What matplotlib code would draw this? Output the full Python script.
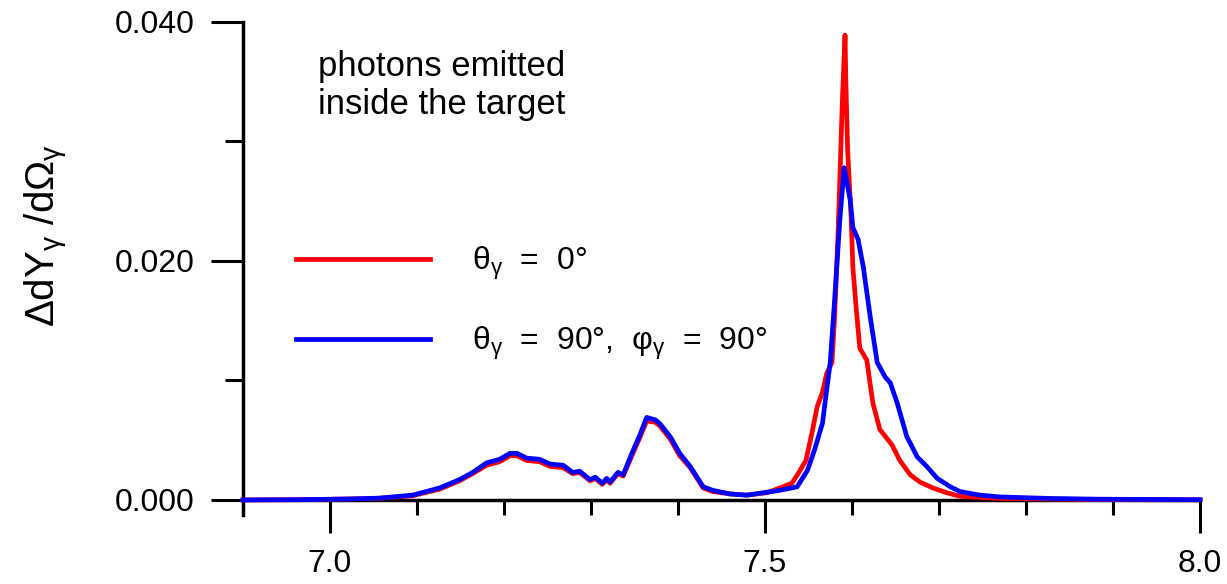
import numpy as np
import matplotlib
matplotlib.use("Agg")
import matplotlib.pyplot as plt
from matplotlib.ticker import MultipleLocator, FixedLocator

plt.rcParams['font.family'] = ['Liberation Sans', 'DejaVu Sans']
plt.rcParams['mathtext.fontset'] = 'custom'
plt.rcParams['mathtext.rm'] = 'Liberation Sans'
plt.rcParams['mathtext.it'] = 'Liberation Sans:italic'
plt.rcParams['mathtext.bf'] = 'Liberation Sans:bold'

# theta = 0 deg spectrum
energy_0 = [6.900, 6.966, 7.023, 7.057, 7.095, 7.126, 7.149, 7.164, 7.180, 7.195,
            7.207, 7.215, 7.226, 7.241, 7.253, 7.268, 7.279, 7.287, 7.299, 7.305,
            7.313, 7.318, 7.322, 7.331, 7.337, 7.347, 7.356, 7.364, 7.374, 7.379,
            7.391, 7.402, 7.414, 7.429, 7.440, 7.460, 7.479, 7.502, 7.517, 7.531,
            7.539, 7.547, 7.554, 7.560, 7.566, 7.571, 7.577, 7.580, 7.584, 7.589,
            7.592, 7.593, 7.595, 7.599, 7.601, 7.605, 7.609, 7.617, 7.624, 7.632,
            7.646, 7.655, 7.667, 7.678, 7.693, 7.709, 7.724, 7.770, 7.885, 8.000]
yield_0 = [0.0, 0.00002, 0.00008, 0.00014, 0.00035, 0.0009, 0.0016, 0.0022, 0.0029, 0.0032,
           0.0037, 0.0037, 0.0033, 0.0032, 0.0028, 0.0027, 0.0022, 0.0023, 0.0016, 0.0018,
           0.0013, 0.0017, 0.0014, 0.0022, 0.0020, 0.0037, 0.0052, 0.0066, 0.0065, 0.0062,
           0.0051, 0.0037, 0.0027, 0.0010, 0.0007, 0.0005, 0.0004, 0.0006, 0.0010, 0.0014,
           0.0023, 0.0033, 0.0056, 0.0078, 0.0090, 0.0106, 0.0115, 0.0153, 0.0223, 0.0335,
           0.0389, 0.0349, 0.0293, 0.0237, 0.0195, 0.0159, 0.0127, 0.0117, 0.0081, 0.0059,
           0.0046, 0.0033, 0.0021, 0.0015, 0.0010, 0.0006, 0.0003, 0.00012, 0.00003, 0.0]

# theta = 90 deg, phi = 90 deg spectrum
energy_90 = [6.900, 6.966, 7.023, 7.057, 7.095, 7.126, 7.149, 7.164, 7.180, 7.195,
             7.207, 7.215, 7.226, 7.241, 7.253, 7.268, 7.279, 7.287, 7.299, 7.305,
             7.313, 7.318, 7.322, 7.331, 7.337, 7.347, 7.356, 7.364, 7.374, 7.379,
             7.391, 7.402, 7.414, 7.429, 7.440, 7.460, 7.479, 7.498, 7.517, 7.537,
             7.549, 7.557, 7.566, 7.575, 7.580, 7.586, 7.591, 7.598, 7.601, 7.607,
             7.613, 7.621, 7.629, 7.638, 7.644, 7.652, 7.663, 7.675, 7.686, 7.698,
             7.713, 7.724, 7.747, 7.770, 7.828, 7.885, 8.000]
yield_90 = [0.0, 0.00002, 0.00008, 0.00015, 0.0004, 0.0010, 0.0017, 0.0023, 0.0031, 0.0034,
            0.0039, 0.0039, 0.0035, 0.0034, 0.0030, 0.0029, 0.0023, 0.0024, 0.0017, 0.0019,
            0.0014, 0.0018, 0.0015, 0.0023, 0.0021, 0.0039, 0.0054, 0.0069, 0.0067, 0.0064,
            0.0053, 0.0039, 0.0028, 0.0011, 0.0008, 0.0005, 0.0004, 0.0006, 0.0008, 0.0011,
            0.0025, 0.0042, 0.0064, 0.0115, 0.0167, 0.0234, 0.0278, 0.0251, 0.0228, 0.0218,
            0.0195, 0.0153, 0.0115, 0.0103, 0.0098, 0.0081, 0.0053, 0.0036, 0.0028, 0.0018,
            0.0011, 0.0007, 0.0004, 0.00025, 0.00012, 0.00006, 0.00002]

label_0 = r'$\mathrm{\theta}_{\mathrm{\gamma}}$  =  0°'
label_90 = r'$\mathrm{\theta}_{\mathrm{\gamma}}$  =  90°,  $\mathrm{\varphi}_{\mathrm{\gamma}}$  =  90°'

fig = plt.figure(figsize=(12.27, 5.84), dpi=100)
ax = fig.add_axes([0.198, 0.1182, 0.780, 0.8442])

ax.plot(energy_0, yield_0, color='#ff0000', linewidth=3.4, label=label_0, zorder=3, clip_on=False)
ax.plot(energy_90, yield_90, color='#0000ff', linewidth=3.4, label=label_90, zorder=4, clip_on=False)

ax.set_xlim(6.9, 8.0)
ax.set_ylim(-0.00126, 0.040)

# only left and bottom axes, bottom axis sits at y = 0
for side in ['top', 'right']:
    ax.spines[side].set_visible(False)
ax.spines['bottom'].set_position(('data', 0))
ax.spines['left'].set_linewidth(2.5)
ax.spines['bottom'].set_linewidth(2.5)

ax.xaxis.set_major_locator(FixedLocator([7.0, 7.5, 8.0]))
ax.xaxis.set_minor_locator(MultipleLocator(0.1))
ax.yaxis.set_major_locator(FixedLocator([0.0, 0.020, 0.040]))
ax.yaxis.set_minor_locator(FixedLocator([0.010, 0.030]))
ax.set_xticklabels(['7.0', '7.5', '8.0'])
ax.set_yticklabels(['0.000', '0.020', '0.040'])

ax.tick_params(axis='x', which='major', direction='out', length=24, width=2.2, pad=11, labelsize=23)
ax.tick_params(axis='x', which='minor', direction='out', length=11, width=2.2)
ax.tick_params(axis='y', which='major', direction='out', length=23, width=2.2, pad=12, labelsize=23)
ax.tick_params(axis='y', which='minor', direction='out', length=13, width=2.2)

fig.text(47 / 1227, 1 - 236 / 584,
         r'$\Delta\mathrm{dY}_{\mathrm{\gamma}}\ /\mathrm{d}\Omega_{\mathrm{\gamma}}$',
         rotation=90, ha='center', va='center', fontsize=29)

ax.text(0.0784, 0.943, 'photons emitted\ninside the target', transform=ax.transAxes,
        ha='left', va='top', fontsize=25, linespacing=1.2)

ax.legend(loc='center left', bbox_to_anchor=(0.0554, 0.429), frameon=False,
          fontsize=23, handlelength=4.2, handletextpad=1.3, labelspacing=1.35,
          borderpad=0, borderaxespad=0)

plt.savefig('out.png', dpi=100)
plt.close()
